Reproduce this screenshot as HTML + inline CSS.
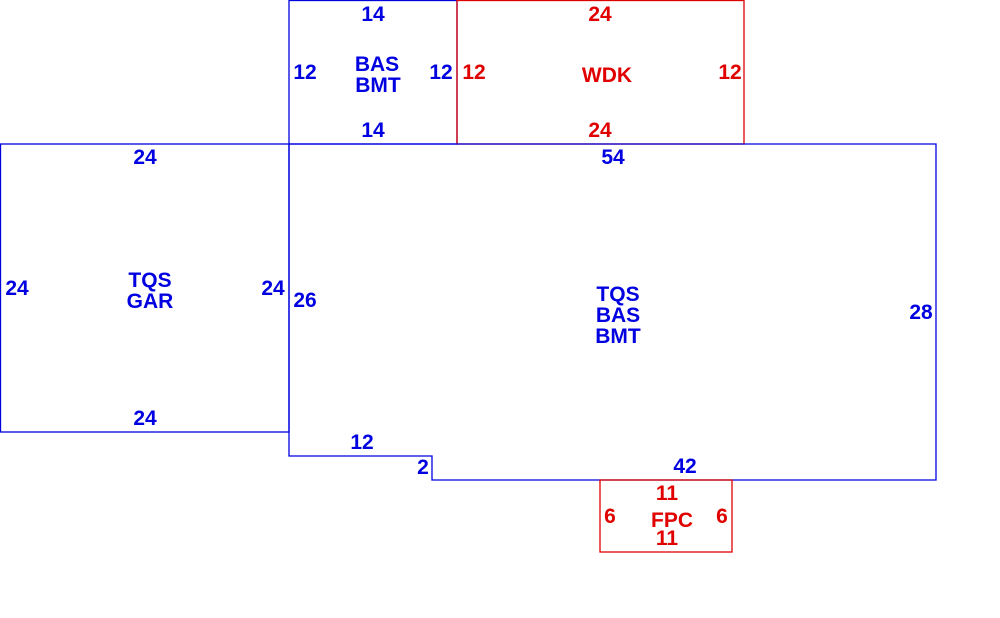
<!DOCTYPE html>
<html><head><style>body{margin:0;background:#fff}svg{display:block}</style></head><body>
<svg width="1000" height="618" xmlns="http://www.w3.org/2000/svg" font-family="Liberation Sans, sans-serif" font-size="21" font-weight="bold" text-anchor="middle">
<g fill="none" stroke-width="1.3">
<rect x="289" y="0.5" width="168" height="143.5" stroke="#0000e0"/>
<rect x="457" y="0.5" width="287" height="143.5" stroke="#e00000"/>
<rect x="0.5" y="144" width="288.5" height="288" stroke="#0000e0"/>
<path d="M289 144 H936 V480 H432 V456 H289 Z" stroke="#0000e0"/>
<rect x="600" y="480" width="132" height="72" stroke="#e00000"/>
</g>
<g fill="#0000e0">
<text x="373" y="21">14</text><text x="305" y="79">12</text><text x="441" y="79">12</text>
<text x="377" y="71">BAS</text><text x="378" y="92">BMT</text><text x="373" y="137">14</text>
<text x="145" y="164">24</text><text x="17" y="295">24</text><text x="273" y="295">24</text>
<text x="150" y="287">TQS</text><text x="150" y="308">GAR</text><text x="145" y="425">24</text>
<text x="613" y="164">54</text><text x="305" y="307">26</text><text x="921" y="319">28</text>
<text x="618" y="301">TQS</text><text x="618" y="322">BAS</text><text x="618" y="343">BMT</text>
<text x="362" y="449">12</text><text x="423" y="474">2</text><text x="685" y="473">42</text>
</g>
<g fill="#e00000">
<text x="600" y="21">24</text><text x="474" y="79">12</text><text x="730" y="79">12</text>
<text x="607" y="82">WDK</text><text x="600" y="137">24</text>
<text x="667" y="500">11</text><text x="610" y="523">6</text><text x="722" y="523">6</text>
<text x="672" y="527">FPC</text><text x="667" y="545">11</text>
</g>
</svg>
</body></html>
